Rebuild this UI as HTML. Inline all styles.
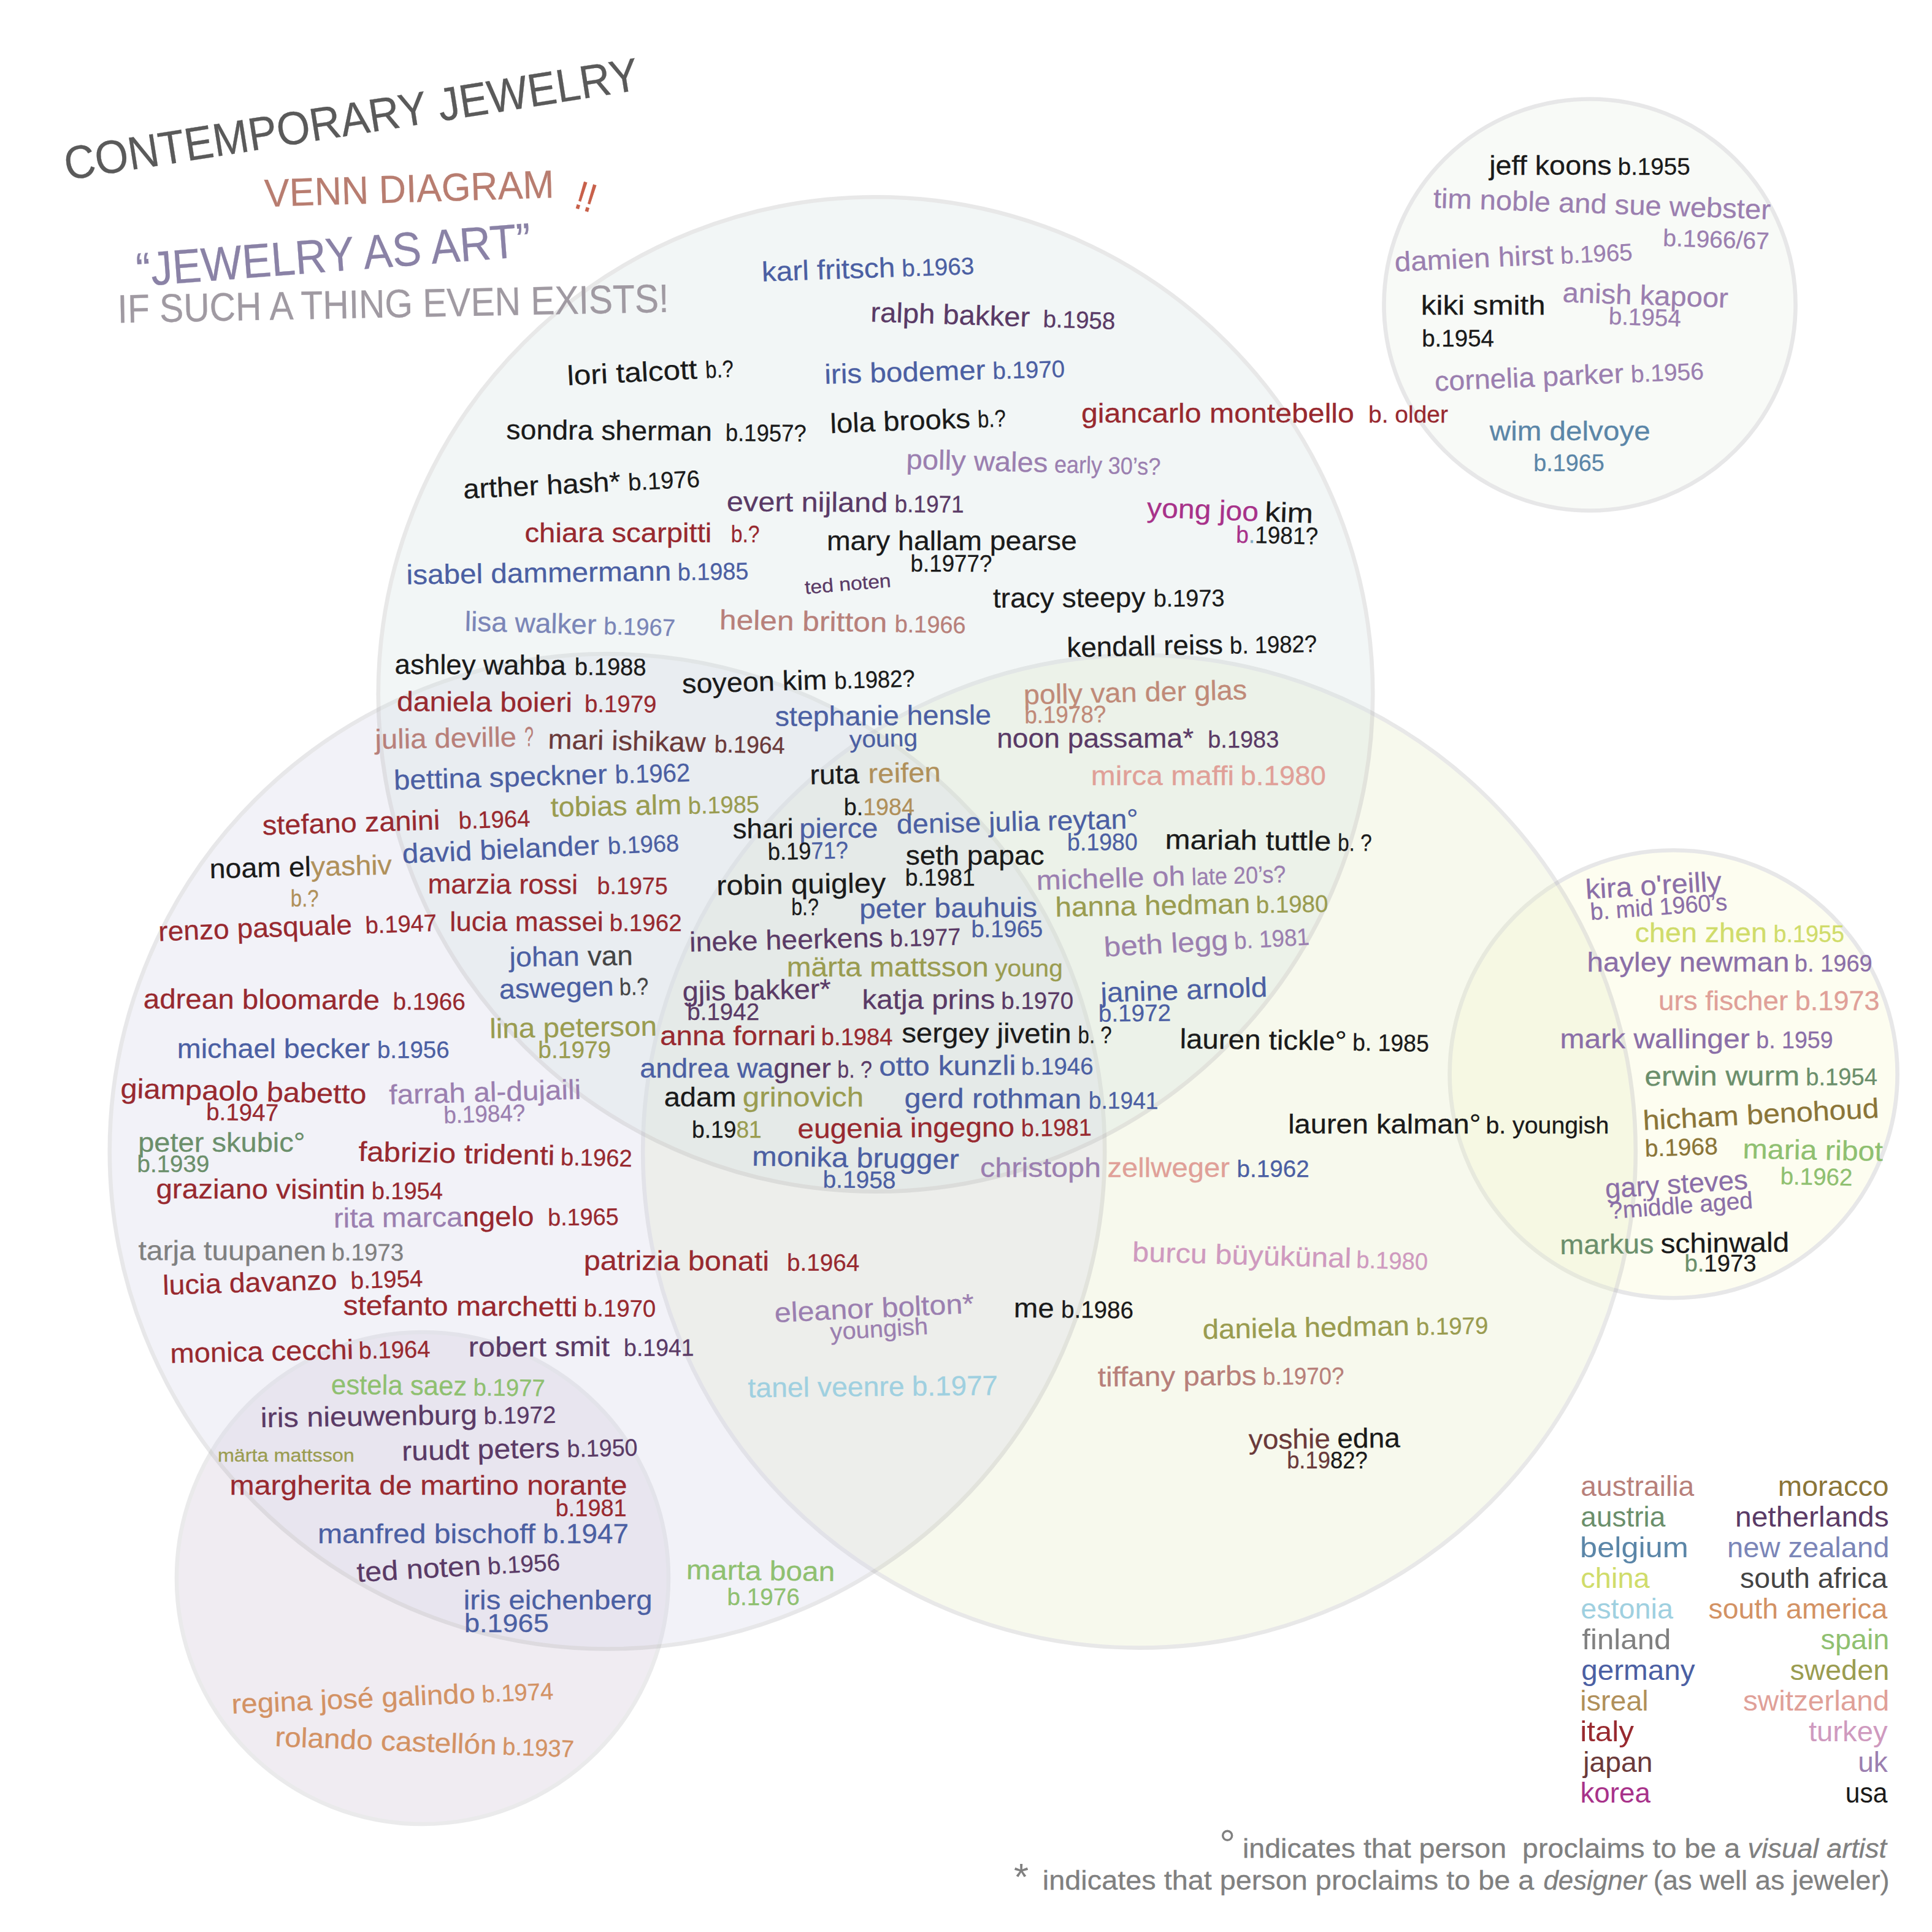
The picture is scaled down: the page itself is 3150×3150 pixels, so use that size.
<!DOCTYPE html>
<html><head><meta charset="utf-8"><title>Contemporary Jewelry Venn Diagram</title>
<style>html,body{margin:0;padding:0;background:#fff}svg{display:block}text{font-family:"Liberation Sans", sans-serif;white-space:pre;stroke-width:.3px}</style></head><body>
<svg width="3150" height="3150" viewBox="0 0 3150 3150">
<rect width="3150" height="3150" fill="#fff"/>
<circle cx="689" cy="2573" r="401" fill="rgb(208,195,215)" stroke="rgb(188,188,192)" stroke-width="6.6" opacity="0.3"/>
<circle cx="2592" cy="497" r="335.5" fill="rgb(225,235,220)" stroke="rgb(150,150,152)" stroke-width="6.6" opacity="0.22"/>
<circle cx="2728.6" cy="1751.2" r="365" fill="rgb(250,252,215)" stroke="rgb(188,188,190)" stroke-width="6.6" opacity="0.35"/>
<circle cx="1857.5" cy="1877.3" r="809.3" fill="rgb(232,238,198)" stroke="rgb(180,180,182)" stroke-width="6.6" opacity="0.3"/>
<circle cx="990" cy="1877.3" r="811.2" fill="rgb(212,212,232)" stroke="rgb(173,173,177)" stroke-width="6.6" opacity="0.28"/>
<circle cx="1427.5" cy="1132" r="810.75" fill="rgb(214,227,226)" stroke="rgb(180,180,182)" stroke-width="6.6" opacity="0.3"/>
<text transform="translate(111.6 293.2) rotate(-8.95) scale(0.9228 1)" x="-3" y="0" font-size="76" fill="#5a5a5a" stroke="#5a5a5a">CONTEMPORARY JEWELRY</text>
<text transform="translate(431.86 337.14) rotate(-1.81) scale(0.9556 1)" x="0" y="0" font-size="64" fill="#b87d70" stroke="#b87d70">VENN DIAGRAM</text>
<text transform="translate(226 467) rotate(-4.41) scale(0.9079 1)" x="-2" y="0" font-size="78" fill="#8a82a6" stroke="#8a82a6">“JEWELRY AS ART”</text>
<text transform="translate(197.5 526.2) rotate(-1.13) scale(0.9030 1)" x="-6" y="0" font-size="65" fill="#a09aa2" stroke="#a09aa2">IF SUCH A THING EVEN EXISTS!</text>
<text transform="translate(1245.65 458.74) rotate(-2.01) scale(1.0604 1)" x="-3" y="0" font-size="45" fill="#4b5fa3" stroke="#4b5fa3">karl fritsch</text>
<text transform="translate(1472.83 450.78) rotate(-2.01) scale(0.9879 1)" x="-2" y="0" font-size="39" fill="#4b5fa3" stroke="#4b5fa3">b.1963</text>
<text transform="translate(1421.2 524.33) rotate(1.81) scale(1.0492 1)" x="-2" y="0" font-size="45" fill="#5a3a66" stroke="#5a3a66">ralph bakker</text>
<text transform="translate(1702.17 533.22) rotate(1.81) scale(0.9878 1)" x="-2" y="0" font-size="39" fill="#5a3a66" stroke="#5a3a66">b.1958</text>
<text transform="translate(928.9 628) rotate(-2.94) scale(1.1011 1)" x="-3" y="0" font-size="45" fill="#1a1a1a" stroke="#1a1a1a">lori talcott</text>
<text transform="translate(1152.5 616.53) rotate(-2.94) scale(0.8454 1)" x="-2" y="0" font-size="39" fill="#1a1a1a" stroke="#1a1a1a">b.?</text>
<text transform="translate(1347.83 625.59) rotate(-1.6) scale(1.0603 1)" x="-3" y="0" font-size="45" fill="#4b5fa3" stroke="#4b5fa3">iris bodemer</text>
<text transform="translate(1620.65 617.94) rotate(-1.6) scale(0.9886 1)" x="-2" y="0" font-size="39" fill="#4b5fa3" stroke="#4b5fa3">b.1970</text>
<text transform="translate(826.4 715.8) rotate(0.48) scale(1.0316 1)" x="-1" y="0" font-size="45" fill="#1a1a1a" stroke="#1a1a1a">sondra sherman</text>
<text transform="translate(1184.5 718.81) rotate(0.48) scale(0.9365 1)" x="-2" y="0" font-size="39" fill="#1a1a1a" stroke="#1a1a1a">b.1957?</text>
<text transform="translate(1357.07 706.02) rotate(-2.2) scale(1.0514 1)" x="-3" y="0" font-size="45" fill="#1a1a1a" stroke="#1a1a1a">lola brooks</text>
<text transform="translate(1596.2 696.82) rotate(-2.2) scale(0.8444 1)" x="-2" y="0" font-size="39" fill="#1a1a1a" stroke="#1a1a1a">b.?</text>
<text transform="translate(1764 688.5) rotate(0) scale(1.0720 1)" x="-1" y="0" font-size="45" fill="#98292f" stroke="#98292f">giancarlo montebello</text>
<text transform="translate(2233 688.5) rotate(0) scale(0.9993 1)" x="-2" y="0" font-size="39" fill="#98292f" stroke="#98292f">b. older</text>
<text transform="translate(1479.35 764.38) rotate(1.38) scale(1.0491 1)" x="-2" y="0" font-size="45" fill="#9b7fb0" stroke="#9b7fb0">polly wales</text>
<text transform="translate(1719.57 770.18) rotate(1.38) scale(0.9226 1)" x="-1" y="0" font-size="39" fill="#9b7fb0" stroke="#9b7fb0">early 30’s?</text>
<text transform="translate(757 813) rotate(-2.84) scale(1.0471 1)" x="-1" y="0" font-size="45" fill="#1a1a1a" stroke="#1a1a1a">arther hash*</text>
<text transform="translate(1026.7 799.62) rotate(-2.84) scale(0.9813 1)" x="-2" y="0" font-size="39" fill="#1a1a1a" stroke="#1a1a1a">b.1976</text>
<text transform="translate(1185.87 833.02) rotate(0.41) scale(1.0819 1)" x="-1" y="0" font-size="45" fill="#5a3a66" stroke="#5a3a66">evert nijland</text>
<text transform="translate(1460.33 834.96) rotate(0.41) scale(0.9497 1)" x="-2" y="0" font-size="39" fill="#5a3a66" stroke="#5a3a66">b.1971</text>
<text transform="translate(856.5 883.5) rotate(0) scale(1.0510 1)" x="-1" y="0" font-size="45" fill="#98292f" stroke="#98292f">chiara scarpitti</text>
<text transform="translate(1193.5 883.5) rotate(0) scale(0.8637 1)" x="-2" y="0" font-size="39" fill="#98292f" stroke="#98292f">b.?</text>
<text transform="translate(1350 897.15) rotate(0) scale(1.0325 1)" x="-2" y="0" font-size="45" fill="#1a1a1a" stroke="#1a1a1a">mary hallam pearse</text>
<text transform="translate(1486.41 931.93) rotate(0) scale(0.9432 1)" x="-2" y="0" font-size="39" fill="#1a1a1a" stroke="#1a1a1a">b.1977?</text>
<text transform="translate(1869.6 843) rotate(2.09) scale(1.0699 1)" x="0" y="0" font-size="45" fill="#a8328a" stroke="#a8328a">yong joo</text>
<text transform="translate(2065.2 850.15) rotate(2.09) scale(1.1248 1)" x="-3" y="0" font-size="45" fill="#1a1a1a" stroke="#1a1a1a">kim</text>
<text transform="translate(2017 884.7) rotate(1.22) scale(0.9490 1)" x="-2" y="0" font-size="39"><tspan fill="#a8328a" stroke="#a8328a">b</tspan><tspan fill="#7fa8c0" stroke="#7fa8c0">.</tspan><tspan fill="#1a1a1a" stroke="#1a1a1a">1981?</tspan></text>
<text transform="translate(666 952.5) rotate(-0.83) scale(1.0591 1)" x="-3" y="0" font-size="45" fill="#4b5fa3" stroke="#4b5fa3">isabel dammermann</text>
<text transform="translate(1107 946.13) rotate(-0.83) scale(0.9693 1)" x="-2" y="0" font-size="39" fill="#4b5fa3" stroke="#4b5fa3">b.1985</text>
<text transform="translate(1313 968.5) rotate(-4.73) scale(1.0893 1)" x="0" y="0" font-size="31" fill="#5a3a66" stroke="#5a3a66">ted noten</text>
<text transform="translate(1619 990.5) rotate(-0.3) scale(1.0243 1)" x="0" y="0" font-size="45" fill="#1a1a1a" stroke="#1a1a1a">tracy steepy</text>
<text transform="translate(1882.6 989.1) rotate(-0.3) scale(0.9724 1)" x="-2" y="0" font-size="39" fill="#1a1a1a" stroke="#1a1a1a">b.1973</text>
<text transform="translate(1176.09 1025.96) rotate(0.94) scale(1.1044 1)" x="-3" y="0" font-size="45" fill="#b8807a" stroke="#b8807a">helen britton</text>
<text transform="translate(1460.33 1030.63) rotate(0.94) scale(0.9734 1)" x="-2" y="0" font-size="39" fill="#b8807a" stroke="#b8807a">b.1966</text>
<text transform="translate(760.6 1028.5) rotate(1.42) scale(1.0212 1)" x="-3" y="0" font-size="45" fill="#7b86b8" stroke="#7b86b8">lisa walker</text>
<text transform="translate(986 1034.1) rotate(1.42) scale(0.9779 1)" x="-2" y="0" font-size="39" fill="#7b86b8" stroke="#7b86b8">b.1967</text>
<text transform="translate(1742.8 1071.3) rotate(-1.19) scale(1.0181 1)" x="-3" y="0" font-size="45" fill="#1a1a1a" stroke="#1a1a1a">kendall reiss</text>
<text transform="translate(2007.2 1065.8) rotate(-1.19) scale(0.9357 1)" x="-2" y="0" font-size="39" fill="#1a1a1a" stroke="#1a1a1a">b. 1982?</text>
<text transform="translate(2426.09 285.2) rotate(0) scale(1.0400 1)" x="2" y="0" font-size="45" fill="#1a1a1a" stroke="#1a1a1a">jeff koons</text>
<text transform="translate(2639.67 285.2) rotate(0) scale(0.9882 1)" x="-2" y="0" font-size="39" fill="#1a1a1a" stroke="#1a1a1a">b.1955</text>
<text transform="translate(2336.41 338.46) rotate(1.98) scale(1.0476 1)" x="0" y="0" font-size="45" fill="#9b7fb0" stroke="#9b7fb0">tim noble and sue webster</text>
<text transform="translate(2713.04 400.96) rotate(1.84) scale(0.9991 1)" x="-2" y="0" font-size="39" fill="#9b7fb0" stroke="#9b7fb0">b.1966/67</text>
<text transform="translate(2275.54 442.8) rotate(-2.74) scale(1.0566 1)" x="-1" y="0" font-size="45" fill="#9b7fb0" stroke="#9b7fb0">damien hirst</text>
<text transform="translate(2546.74 429.82) rotate(-2.74) scale(0.9846 1)" x="-2" y="0" font-size="39" fill="#9b7fb0" stroke="#9b7fb0">b.1965</text>
<text transform="translate(2320.11 513.46) rotate(0) scale(1.0961 1)" x="-3" y="0" font-size="45" fill="#1a1a1a" stroke="#1a1a1a">kiki smith</text>
<text transform="translate(2320.11 565.09) rotate(0) scale(0.9882 1)" x="-2" y="0" font-size="39" fill="#1a1a1a" stroke="#1a1a1a">b.1954</text>
<text transform="translate(2548.37 492.26) rotate(1.97) scale(1.0487 1)" x="-1" y="0" font-size="45" fill="#9b7fb0" stroke="#9b7fb0">anish kapoor</text>
<text transform="translate(2624.46 528.67) rotate(1.89) scale(0.9887 1)" x="-2" y="0" font-size="39" fill="#9b7fb0" stroke="#9b7fb0">b.1954</text>
<text transform="translate(2340.76 637.37) rotate(-2.5) scale(1.0361 1)" x="-1" y="0" font-size="45" fill="#9b7fb0" stroke="#9b7fb0">cornelia parker</text>
<text transform="translate(2661.41 623.38) rotate(-2.5) scale(0.9977 1)" x="-2" y="0" font-size="39" fill="#9b7fb0" stroke="#9b7fb0">b.1956</text>
<text transform="translate(2427.72 717.8) rotate(0) scale(1.0581 1)" x="1" y="0" font-size="45" fill="#5b86a8" stroke="#5b86a8">wim delvoye</text>
<text transform="translate(2502.17 767.8) rotate(0) scale(0.9695 1)" x="-2" y="0" font-size="39" fill="#5b86a8" stroke="#5b86a8">b.1965</text>
<text transform="translate(644.6 1098.5) rotate(0.35) scale(1.0140 1)" x="-1" y="0" font-size="45" fill="#1a1a1a" stroke="#1a1a1a">ashley wahba</text>
<text transform="translate(938.8 1100.31) rotate(0.35) scale(0.9784 1)" x="-2" y="0" font-size="39" fill="#1a1a1a" stroke="#1a1a1a">b.1988</text>
<text transform="translate(648 1159) rotate(0.34) scale(1.0687 1)" x="-1" y="0" font-size="45" fill="#98292f" stroke="#98292f">daniela boieri</text>
<text transform="translate(955 1160.82) rotate(0.34) scale(0.9828 1)" x="-2" y="0" font-size="39" fill="#98292f" stroke="#98292f">b.1979</text>
<text transform="translate(609.78 1221.07) rotate(-1.08) scale(1.0473 1)" x="2" y="0" font-size="45" fill="#b8807a" stroke="#b8807a">julia deville</text>
<text transform="translate(855.98 1216.43) rotate(-1.08) scale(0.5908 1)" x="-1" y="0" font-size="45" fill="#b8807a" stroke="#b8807a">?</text>
<text transform="translate(895.4 1220.5) rotate(1.26) scale(1.0383 1)" x="-2" y="0" font-size="45" fill="#6b3a3a" stroke="#6b3a3a">mari ishikaw</text>
<text transform="translate(1166.4 1226.44) rotate(1.26) scale(0.9634 1)" x="-2" y="0" font-size="39" fill="#6b3a3a" stroke="#6b3a3a">b.1964</text>
<text transform="translate(644.6 1287.5) rotate(-1.64) scale(1.0537 1)" x="-2" y="0" font-size="45" fill="#4b5fa3" stroke="#4b5fa3">bettina speckner</text>
<text transform="translate(1005 1277.21) rotate(-1.64) scale(0.9540 1)" x="-2" y="0" font-size="42" fill="#4b5fa3" stroke="#4b5fa3">b.1962</text>
<text transform="translate(898 1331.5) rotate(-1.18) scale(1.0416 1)" x="0" y="0" font-size="45" fill="#9a9c50" stroke="#9a9c50">tobias alm</text>
<text transform="translate(1124 1326.84) rotate(-1.18) scale(0.9737 1)" x="-2" y="0" font-size="39" fill="#9a9c50" stroke="#9a9c50">b.1985</text>
<text transform="translate(429.35 1361.28) rotate(-1.79) scale(1.0430 1)" x="-1" y="0" font-size="45" fill="#98292f" stroke="#98292f">stefano zanini</text>
<text transform="translate(750 1351.26) rotate(-1.79) scale(0.9793 1)" x="-2" y="0" font-size="39" fill="#98292f" stroke="#98292f">b.1964</text>
<text transform="translate(657.6 1407.5) rotate(-2.55) scale(1.0542 1)" x="-1" y="0" font-size="45" fill="#4b5fa3" stroke="#4b5fa3">david bielander</text>
<text transform="translate(993.5 1392.52) rotate(-2.55) scale(0.9742 1)" x="-2" y="0" font-size="39" fill="#4b5fa3" stroke="#4b5fa3">b.1968</text>
<text transform="translate(344.02 1431.93) rotate(-1.26) scale(1.0335 1)" x="-2" y="0" font-size="45"><tspan fill="#1a1a1a" stroke="#1a1a1a">noam el</tspan><tspan fill="#b0905a" stroke="#b0905a">yashiv</tspan></text>
<text transform="translate(475.54 1478.13) rotate(0) scale(0.8438 1)" x="-2" y="0" font-size="39" fill="#b0905a" stroke="#b0905a">b.?</text>
<text transform="translate(699.5 1456.5) rotate(0.22) scale(1.0083 1)" x="-2" y="0" font-size="45" fill="#98292f" stroke="#98292f">marzia rossi</text>
<text transform="translate(975.5 1457.57) rotate(0.22) scale(0.9649 1)" x="-2" y="0" font-size="39" fill="#98292f" stroke="#98292f">b.1975</text>
<text transform="translate(260.87 1534.11) rotate(-2.08) scale(1.0263 1)" x="-2" y="0" font-size="45" fill="#98292f" stroke="#98292f">renzo pasquale</text>
<text transform="translate(597.83 1521.9) rotate(-2.08) scale(0.9786 1)" x="-2" y="0" font-size="39" fill="#98292f" stroke="#98292f">b.1947</text>
<text transform="translate(736.4 1517.5) rotate(0) scale(1.0125 1)" x="-3" y="0" font-size="45" fill="#98292f" stroke="#98292f">lucia massei</text>
<text transform="translate(995.7 1517.5) rotate(0) scale(0.9888 1)" x="-2" y="0" font-size="39" fill="#98292f" stroke="#98292f">b.1962</text>
<text transform="translate(828.8 1575.96) rotate(-0.77) scale(1.0369 1)" x="2" y="0" font-size="45" fill="#4b5fa3" stroke="#4b5fa3">johan</text>
<text transform="translate(958.15 1574.21) rotate(-0.77) scale(1.0173 1)" x="0" y="0" font-size="45" fill="#444444" stroke="#444444">van</text>
<text transform="translate(815.2 1628.5) rotate(-1.66) scale(1.0382 1)" x="-1" y="0" font-size="45" fill="#4b5fa3" stroke="#4b5fa3">aswegen</text>
<text transform="translate(1012 1622.8) rotate(-1.66) scale(0.8737 1)" x="-2" y="0" font-size="39" fill="#444444" stroke="#444444">b.?</text>
<text transform="translate(234.78 1643.89) rotate(0.3) scale(1.0549 1)" x="-1" y="0" font-size="45" fill="#98292f" stroke="#98292f">adrean bloomarde</text>
<text transform="translate(642.39 1646.01) rotate(0.3) scale(0.9920 1)" x="-2" y="0" font-size="39" fill="#98292f" stroke="#98292f">b.1966</text>
<text transform="translate(801.6 1692.5) rotate(-0.86) scale(1.0585 1)" x="-3" y="0" font-size="45" fill="#9a9c50" stroke="#9a9c50">lina peterson</text>
<text transform="translate(879.35 1725.41) rotate(0) scale(0.9967 1)" x="-2" y="0" font-size="39" fill="#9a9c50" stroke="#9a9c50">b.1979</text>
<text transform="translate(290.76 1725.41) rotate(0) scale(1.0394 1)" x="-2" y="0" font-size="45" fill="#4b5fa3" stroke="#4b5fa3">michael becker</text>
<text transform="translate(616.85 1725.41) rotate(0) scale(0.9873 1)" x="-2" y="0" font-size="39" fill="#4b5fa3" stroke="#4b5fa3">b.1956</text>
<text transform="translate(197.3 1790) rotate(1.36) scale(1.0830 1)" x="-1" y="0" font-size="45" fill="#98292f" stroke="#98292f">giampaolo babetto</text>
<text transform="translate(338.04 1825.96) rotate(0.82) scale(0.9874 1)" x="-2" y="0" font-size="39" fill="#98292f" stroke="#98292f">b.1947</text>
<text transform="translate(634.78 1800.41) rotate(-1.61) scale(1.0608 1)" x="0" y="0" font-size="45" fill="#9b7fb0" stroke="#9b7fb0">farrah al-dujaili</text>
<text transform="translate(725.54 1831.39) rotate(-1.67) scale(0.9436 1)" x="-2" y="0" font-size="39" fill="#9b7fb0" stroke="#9b7fb0">b.1984?</text>
<text transform="translate(227.3 1877.8) rotate(0) scale(1.0451 1)" x="-2" y="0" font-size="45" fill="#6b8f6b" stroke="#6b8f6b">peter skubic°</text>
<text transform="translate(225.54 1911.28) rotate(0) scale(0.9873 1)" x="-2" y="0" font-size="39" fill="#6b8f6b" stroke="#6b8f6b">b.1939</text>
<text transform="translate(584.24 1892.8) rotate(1.19) scale(1.0942 1)" x="0" y="0" font-size="45" fill="#98292f" stroke="#98292f">fabrizio tridenti</text>
<text transform="translate(915.76 1899.69) rotate(1.19) scale(0.9781 1)" x="-2" y="0" font-size="39" fill="#98292f" stroke="#98292f">b.1962</text>
<text transform="translate(255.43 1953.67) rotate(0.2) scale(1.0576 1)" x="-1" y="0" font-size="45" fill="#98292f" stroke="#98292f">graziano visintin</text>
<text transform="translate(607.61 1954.91) rotate(0.2) scale(0.9742 1)" x="-2" y="0" font-size="39" fill="#98292f" stroke="#98292f">b.1954</text>
<text transform="translate(546.2 2001.5) rotate(-0.54) scale(1.0530 1)" x="-2" y="0" font-size="45"><tspan fill="#9b7fb0" stroke="#9b7fb0">rita marca</tspan><tspan fill="#98292f" stroke="#98292f">ngelo</tspan></text>
<text transform="translate(895.11 1998.22) rotate(-0.54) scale(0.9696 1)" x="-2" y="0" font-size="39" fill="#98292f" stroke="#98292f">b.1965</text>
<text transform="translate(225.54 2054.22) rotate(0.14) scale(1.0653 1)" x="0" y="0" font-size="45" fill="#808080" stroke="#808080">tarja tuupanen</text>
<text transform="translate(542.39 2055.02) rotate(0.14) scale(0.9873 1)" x="-2" y="0" font-size="39" fill="#808080" stroke="#808080">b.1973</text>
<text transform="translate(268.8 2110.9) rotate(-1.83) scale(1.0339 1)" x="-3" y="0" font-size="45" fill="#98292f" stroke="#98292f">lucia davanzo</text>
<text transform="translate(574 2101.17) rotate(-1.83) scale(0.9868 1)" x="-2" y="0" font-size="39" fill="#98292f" stroke="#98292f">b.1954</text>
<text transform="translate(954 2070.5) rotate(0.21) scale(1.0793 1)" x="-2" y="0" font-size="45" fill="#98292f" stroke="#98292f">patrizia bonati</text>
<text transform="translate(1285 2071.69) rotate(0.21) scale(0.9906 1)" x="-2" y="0" font-size="39" fill="#98292f" stroke="#98292f">b.1964</text>
<text transform="translate(1113.59 1130.3) rotate(-1.65) scale(1.0384 1)" x="-1" y="0" font-size="45" fill="#1a1a1a" stroke="#1a1a1a">soyeon kim</text>
<text transform="translate(1362.5 1123.14) rotate(-1.65) scale(0.9318 1)" x="-2" y="0" font-size="39" fill="#1a1a1a" stroke="#1a1a1a">b.1982?</text>
<text transform="translate(1264.67 1183.57) rotate(-0.44) scale(1.0364 1)" x="-1" y="0" font-size="45" fill="#4b5fa3" stroke="#4b5fa3">stephanie hensle</text>
<text transform="translate(1385.33 1218.89) rotate(-1.42) scale(1.0450 1)" x="0" y="0" font-size="39" fill="#4b5fa3" stroke="#4b5fa3">young</text>
<text transform="translate(1671.2 1148.24) rotate(-1.29) scale(1.0411 1)" x="-2" y="0" font-size="45" fill="#c08a78" stroke="#c08a78">polly van der glas</text>
<text transform="translate(1672.28 1179.22) rotate(-0.72) scale(0.9433 1)" x="-2" y="0" font-size="39" fill="#c08a78" stroke="#c08a78">b.1978?</text>
<text transform="translate(1627.17 1218.89) rotate(0) scale(1.0267 1)" x="-2" y="0" font-size="45" fill="#5a3a66" stroke="#5a3a66">noon passama*</text>
<text transform="translate(1971.2 1218.89) rotate(0) scale(0.9732 1)" x="-2" y="0" font-size="39" fill="#5a3a66" stroke="#5a3a66">b.1983</text>
<text transform="translate(1322.83 1278.67) rotate(-1.19) scale(1.0373 1)" x="-2" y="0" font-size="45" fill="#1a1a1a" stroke="#1a1a1a">ruta</text>
<text transform="translate(1417.93 1276.7) rotate(-1.19) scale(1.0517 1)" x="-2" y="0" font-size="45" fill="#b0905a" stroke="#b0905a">reifen</text>
<text transform="translate(1377.72 1328.67) rotate(0) scale(0.9649 1)" x="-2" y="0" font-size="39"><tspan fill="#1a1a1a" stroke="#1a1a1a">b.</tspan><tspan fill="#b0905a" stroke="#b0905a">1984</tspan></text>
<text transform="translate(1781 1279.5) rotate(0) scale(1.0644 1)" x="-2" y="0" font-size="45" fill="#e0a098" stroke="#e0a098">mirca maffi</text>
<text transform="translate(2024.5 1279.5) rotate(0) scale(1.0140 1)" x="-2" y="0" font-size="45" fill="#e0a098" stroke="#e0a098">b.1980</text>
<text transform="translate(1195.65 1366.72) rotate(-0.27) scale(1.0168 1)" x="-1" y="0" font-size="45" fill="#1a1a1a" stroke="#1a1a1a">shari</text>
<text transform="translate(1305.43 1366.21) rotate(-0.27) scale(1.0457 1)" x="-2" y="0" font-size="45" fill="#4b5fa3" stroke="#4b5fa3">pierce</text>
<text transform="translate(1253.8 1402.04) rotate(-1.21) scale(0.9316 1)" x="-2" y="0" font-size="39"><tspan fill="#1a1a1a" stroke="#1a1a1a">b.19</tspan><tspan fill="#4b5fa3" stroke="#4b5fa3">71?</tspan></text>
<text transform="translate(1463.4 1359.3) rotate(-1.3) scale(1.0349 1)" x="-1" y="0" font-size="45" fill="#4b5fa3" stroke="#4b5fa3">denise julia reytan°</text>
<text transform="translate(1742 1386.5) rotate(-0.26) scale(0.9623 1)" x="-2" y="0" font-size="39" fill="#4b5fa3" stroke="#4b5fa3">b.1980</text>
<text transform="translate(1901.6 1384.1) rotate(0.58) scale(1.0933 1)" x="-2" y="0" font-size="45" fill="#1a1a1a" stroke="#1a1a1a">mariah tuttle</text>
<text transform="translate(2182.6 1386.96) rotate(0.58) scale(0.8564 1)" x="-2" y="0" font-size="39" fill="#1a1a1a" stroke="#1a1a1a">b. ?</text>
<text transform="translate(1477.72 1410.2) rotate(0) scale(1.0265 1)" x="-1" y="0" font-size="45" fill="#1a1a1a" stroke="#1a1a1a">seth papac</text>
<text transform="translate(1477.72 1443.89) rotate(0) scale(0.9544 1)" x="-2" y="0" font-size="39" fill="#1a1a1a" stroke="#1a1a1a">b.1981</text>
<text transform="translate(1692.39 1450.96) rotate(-1.77) scale(1.0652 1)" x="-2" y="0" font-size="45" fill="#9b7fb0" stroke="#9b7fb0">michelle oh</text>
<text transform="translate(1945.11 1443.13) rotate(-1.77) scale(0.9242 1)" x="-2" y="0" font-size="39" fill="#9b7fb0" stroke="#9b7fb0">late 20’s?</text>
<text transform="translate(1170.65 1459.11) rotate(-0.91) scale(1.0821 1)" x="-2" y="0" font-size="45" fill="#1a1a1a" stroke="#1a1a1a">robin quigley</text>
<text transform="translate(1291.85 1491.72) rotate(0) scale(0.8227 1)" x="-2" y="0" font-size="39" fill="#1a1a1a" stroke="#1a1a1a">b.?</text>
<text transform="translate(1403.26 1497.15) rotate(-0.54) scale(1.0640 1)" x="-2" y="0" font-size="45" fill="#4b5fa3" stroke="#4b5fa3">peter bauhuis</text>
<text transform="translate(1585.33 1528.13) rotate(0) scale(0.9789 1)" x="-2" y="0" font-size="39" fill="#4b5fa3" stroke="#4b5fa3">b.1965</text>
<text transform="translate(1724 1494.5) rotate(-1.04) scale(1.0583 1)" x="-3" y="0" font-size="45" fill="#9a9c50" stroke="#9a9c50">hanna hedman</text>
<text transform="translate(2050 1488.59) rotate(-1.04) scale(0.9865 1)" x="-2" y="0" font-size="39" fill="#9a9c50" stroke="#9a9c50">b.1980</text>
<text transform="translate(1127.72 1551.5) rotate(-1.42) scale(1.0341 1)" x="-3" y="0" font-size="45" fill="#5a3a66" stroke="#5a3a66">ineke heerkens</text>
<text transform="translate(1453.26 1543.41) rotate(-1.42) scale(0.9688 1)" x="-2" y="0" font-size="39" fill="#5a3a66" stroke="#5a3a66">b.1977</text>
<text transform="translate(1803 1559.5) rotate(-3.29) scale(1.0949 1)" x="-2" y="0" font-size="45" fill="#9b7fb0" stroke="#9b7fb0">beth legg</text>
<text transform="translate(2014.7 1547.35) rotate(-3.29) scale(0.9452 1)" x="-2" y="0" font-size="39" fill="#9b7fb0" stroke="#9b7fb0">b. 1981</text>
<text transform="translate(1284.78 1592.26) rotate(0) scale(1.0618 1)" x="-2" y="0" font-size="45" fill="#9a9c50" stroke="#9a9c50">märta mattsson</text>
<text transform="translate(1622.28 1592.26) rotate(0) scale(1.0395 1)" x="0" y="0" font-size="39" fill="#9a9c50" stroke="#9a9c50">young</text>
<text transform="translate(1114.13 1631.93) rotate(-1.04) scale(1.0397 1)" x="-1" y="0" font-size="45" fill="#5a3a66" stroke="#5a3a66">gjis bakker*</text>
<text transform="translate(1122.28 1662.91) rotate(0) scale(0.9873 1)" x="-2" y="0" font-size="39" fill="#5a3a66" stroke="#5a3a66">b.1942</text>
<text transform="translate(1408.7 1644.98) rotate(0) scale(1.0567 1)" x="-3" y="0" font-size="45" fill="#5a3a66" stroke="#5a3a66">katja prins</text>
<text transform="translate(1634.24 1644.98) rotate(0) scale(0.9882 1)" x="-2" y="0" font-size="39" fill="#5a3a66" stroke="#5a3a66">b.1970</text>
<text transform="translate(1792.93 1634.11) rotate(-1.95) scale(1.0552 1)" x="2" y="0" font-size="45" fill="#4b5fa3" stroke="#4b5fa3">janine arnold</text>
<text transform="translate(1792.93 1665.63) rotate(-0.54) scale(0.9921 1)" x="-2" y="0" font-size="39" fill="#4b5fa3" stroke="#4b5fa3">b.1972</text>
<text transform="translate(1077.17 1703.67) rotate(0) scale(1.0586 1)" x="-1" y="0" font-size="45" fill="#98292f" stroke="#98292f">anna fornari</text>
<text transform="translate(1340.76 1703.67) rotate(0) scale(0.9789 1)" x="-2" y="0" font-size="39" fill="#98292f" stroke="#98292f">b.1984</text>
<text transform="translate(1471.2 1699.33) rotate(0.27) scale(1.0531 1)" x="-1" y="0" font-size="45" fill="#1a1a1a" stroke="#1a1a1a">sergey jivetin</text>
<text transform="translate(1759.24 1700.7) rotate(0.27) scale(0.8454 1)" x="-2" y="0" font-size="39" fill="#1a1a1a" stroke="#1a1a1a">b. ?</text>
<text transform="translate(1926.6 1709.1) rotate(0.77) scale(1.0545 1)" x="-3" y="0" font-size="45" fill="#1a1a1a" stroke="#1a1a1a">lauren tickle°</text>
<text transform="translate(2207 1712.86) rotate(0.77) scale(0.9575 1)" x="-2" y="0" font-size="39" fill="#1a1a1a" stroke="#1a1a1a">b. 1985</text>
<text transform="translate(1044.2 1757.2) rotate(0) scale(1.0387 1)" x="-1" y="0" font-size="45"><tspan fill="#4b5fa3" stroke="#4b5fa3">andrea wa</tspan><tspan fill="#5a3a66" stroke="#5a3a66">gner</tspan></text>
<text transform="translate(1367 1757.2) rotate(0) scale(0.8723 1)" x="-2" y="0" font-size="39" fill="#5a3a66" stroke="#5a3a66">b. ?</text>
<text transform="translate(1434.24 1753.67) rotate(-0.36) scale(1.1028 1)" x="-1" y="0" font-size="45" fill="#4b5fa3" stroke="#4b5fa3">otto kunzli</text>
<text transform="translate(1666.85 1752.22) rotate(-0.36) scale(0.9873 1)" x="-2" y="0" font-size="39" fill="#4b5fa3" stroke="#4b5fa3">b.1946</text>
<text transform="translate(1083.7 1804.22) rotate(0) scale(1.0463 1)" x="-1" y="0" font-size="45" fill="#1a1a1a" stroke="#1a1a1a">adam</text>
<text transform="translate(1211.96 1804.22) rotate(0) scale(1.0958 1)" x="-1" y="0" font-size="45" fill="#9a9c50" stroke="#9a9c50">grinovich</text>
<text transform="translate(1129.89 1854.76) rotate(0) scale(0.9544 1)" x="-2" y="0" font-size="39"><tspan fill="#1a1a1a" stroke="#1a1a1a">b.19</tspan><tspan fill="#9a9c50" stroke="#9a9c50">81</tspan></text>
<text transform="translate(1475.54 1805.85) rotate(0.3) scale(1.0783 1)" x="-1" y="0" font-size="45" fill="#4b5fa3" stroke="#4b5fa3">gerd rothman</text>
<text transform="translate(1776.63 1807.44) rotate(0.3) scale(0.9544 1)" x="-2" y="0" font-size="39" fill="#4b5fa3" stroke="#4b5fa3">b.1941</text>
<text transform="translate(1301.63 1855.85) rotate(-0.52) scale(1.0630 1)" x="-1" y="0" font-size="45" fill="#98292f" stroke="#98292f">eugenia ingegno</text>
<text transform="translate(1666.85 1852.52) rotate(-0.52) scale(0.9639 1)" x="-2" y="0" font-size="39" fill="#98292f" stroke="#98292f">b.1981</text>
<text transform="translate(1228.26 1900.41) rotate(0.93) scale(1.0795 1)" x="-2" y="0" font-size="45" fill="#4b5fa3" stroke="#4b5fa3">monika brugger</text>
<text transform="translate(1343.48 1936.28) rotate(0.54) scale(0.9968 1)" x="-2" y="0" font-size="39" fill="#4b5fa3" stroke="#4b5fa3">b.1958</text>
<text transform="translate(1599 1918.5) rotate(0) scale(1.0804 1)" x="-1" y="0" font-size="45" fill="#9b7fb0" stroke="#9b7fb0">christoph</text>
<text transform="translate(1806.5 1918.5) rotate(0) scale(1.0497 1)" x="-1" y="0" font-size="45" fill="#e0a098" stroke="#e0a098">zellweger</text>
<text transform="translate(2018.5 1918.5) rotate(0) scale(0.9905 1)" x="-2" y="0" font-size="39" fill="#4b5fa3" stroke="#4b5fa3">b.1962</text>
<text transform="translate(1848 2056.5) rotate(1.67) scale(1.0812 1)" x="-2" y="0" font-size="45" fill="#cf9abf" stroke="#cf9abf">burcu büyükünal</text>
<text transform="translate(2213 2067.17) rotate(1.67) scale(0.9782 1)" x="-2" y="0" font-size="39" fill="#cf9abf" stroke="#cf9abf">b.1980</text>
<text transform="translate(2589.13 1465.63) rotate(-3.55) scale(1.0518 1)" x="-3" y="0" font-size="45" fill="#8b6fa8" stroke="#8b6fa8">kira o'reilly</text>
<text transform="translate(2595.65 1499.87) rotate(-4.23) scale(0.9672 1)" x="-2" y="0" font-size="39" fill="#8b6fa8" stroke="#8b6fa8">b. mid 1960’s</text>
<text transform="translate(2666.85 1536.28) rotate(0) scale(1.0358 1)" x="-1" y="0" font-size="45" fill="#d0dc6a" stroke="#d0dc6a">chen zhen</text>
<text transform="translate(2893.48 1536.28) rotate(0) scale(0.9695 1)" x="-2" y="0" font-size="39" fill="#d0dc6a" stroke="#d0dc6a">b.1955</text>
<text transform="translate(2590.76 1584.11) rotate(0) scale(1.0546 1)" x="-3" y="0" font-size="45" fill="#8b6fa8" stroke="#8b6fa8">hayley newman</text>
<text transform="translate(2927.72 1584.11) rotate(0) scale(0.9758 1)" x="-2" y="0" font-size="39" fill="#8b6fa8" stroke="#8b6fa8">b. 1969</text>
<text transform="translate(2705.98 1646.61) rotate(0) scale(1.0179 1)" x="-2" y="0" font-size="45" fill="#e0a098" stroke="#e0a098">urs fischer</text>
<text transform="translate(2928.8 1646.61) rotate(0) scale(1.0013 1)" x="-2" y="0" font-size="45" fill="#e0a098" stroke="#e0a098">b.1973</text>
<text transform="translate(2545.65 1709.11) rotate(0) scale(1.0658 1)" x="-2" y="0" font-size="45" fill="#8b6fa8" stroke="#8b6fa8">mark wallinger</text>
<text transform="translate(2865.22 1709.11) rotate(0) scale(0.9629 1)" x="-2" y="0" font-size="39" fill="#8b6fa8" stroke="#8b6fa8">b. 1959</text>
<text transform="translate(2682.61 1769.98) rotate(-0.16) scale(1.0987 1)" x="-1" y="0" font-size="45" fill="#6b8f6b" stroke="#6b8f6b">erwin wurm</text>
<text transform="translate(2946.2 1769.22) rotate(-0.16) scale(0.9789 1)" x="-2" y="0" font-size="39" fill="#6b8f6b" stroke="#6b8f6b">b.1954</text>
<text transform="translate(2682.61 1842.26) rotate(-3.03) scale(1.0769 1)" x="-3" y="0" font-size="45" fill="#8b7538" stroke="#8b7538">hicham benohoud</text>
<text transform="translate(2684.24 1885.74) rotate(-1.89) scale(0.9973 1)" x="-2" y="0" font-size="39" fill="#8b7538" stroke="#8b7538">b.1968</text>
<text transform="translate(2103.26 1847.7) rotate(0) scale(1.0459 1)" x="-3" y="0" font-size="45" fill="#1a1a1a" stroke="#1a1a1a">lauren kalman°</text>
<text transform="translate(2424.46 1847.7) rotate(0) scale(1.0076 1)" x="-2" y="0" font-size="39" fill="#1a1a1a" stroke="#1a1a1a">b. youngish</text>
<text transform="translate(2843.48 1888.46) rotate(1.1) scale(1.0740 1)" x="-2" y="0" font-size="45" fill="#8fc070" stroke="#8fc070">maria ribot</text>
<text transform="translate(2904.35 1930.85) rotate(1.09) scale(0.9875 1)" x="-2" y="0" font-size="39" fill="#8fc070" stroke="#8fc070">b.1962</text>
<text transform="translate(2619.02 1953.67) rotate(-3.79) scale(1.0123 1)" x="-1" y="0" font-size="45" fill="#8b6fa8" stroke="#8b6fa8">gary steves</text>
<text transform="translate(2626.09 1987.37) rotate(-4.31) scale(1.0007 1)" x="-1" y="0" font-size="39" fill="#8b6fa8" stroke="#8b6fa8">?middle aged</text>
<text transform="translate(2545.65 2044.98) rotate(-0.67) scale(1.0378 1)" x="-2" y="0" font-size="45" fill="#6b8f6b" stroke="#6b8f6b">markus</text>
<text transform="translate(2708.7 2043.06) rotate(-0.67) scale(1.0615 1)" x="-1" y="0" font-size="45" fill="#1a1a1a" stroke="#1a1a1a">schinwald</text>
<text transform="translate(2748.37 2073.24) rotate(0) scale(0.9826 1)" x="-2" y="0" font-size="39"><tspan fill="#6b8f6b" stroke="#6b8f6b">b.</tspan><tspan fill="#1a1a1a" stroke="#1a1a1a">1973</tspan></text>
<text transform="translate(560.5 2143.5) rotate(0.39) scale(1.0691 1)" x="-1" y="0" font-size="45" fill="#98292f" stroke="#98292f">stefanto marchetti</text>
<text transform="translate(953.8 2146.21) rotate(0.39) scale(0.9838 1)" x="-2" y="0" font-size="39" fill="#98292f" stroke="#98292f">b.1970</text>
<text transform="translate(279.89 2222.15) rotate(-1.26) scale(1.0479 1)" x="-2" y="0" font-size="45" fill="#98292f" stroke="#98292f">monica cecchi</text>
<text transform="translate(586.96 2215.42) rotate(-1.26) scale(0.9791 1)" x="-2" y="0" font-size="39" fill="#98292f" stroke="#98292f">b.1964</text>
<text transform="translate(766 2211.5) rotate(-0.16) scale(1.0832 1)" x="-2" y="0" font-size="45" fill="#5a3a66" stroke="#5a3a66">robert smit</text>
<text transform="translate(1019 2210.8) rotate(-0.16) scale(0.9603 1)" x="-2" y="0" font-size="39" fill="#5a3a66" stroke="#5a3a66">b.1941</text>
<text transform="translate(540.76 2272.7) rotate(0.63) scale(0.9729 1)" x="-1" y="0" font-size="45" fill="#8fc070" stroke="#8fc070">estela saez</text>
<text transform="translate(773.37 2275.25) rotate(0.63) scale(0.9827 1)" x="-2" y="0" font-size="39" fill="#8fc070" stroke="#8fc070">b.1977</text>
<text transform="translate(428.26 2327.04) rotate(-0.85) scale(1.0781 1)" x="-3" y="0" font-size="45" fill="#5a3a66" stroke="#5a3a66">iris nieuwenburg</text>
<text transform="translate(790.76 2321.67) rotate(-0.85) scale(0.9874 1)" x="-2" y="0" font-size="39" fill="#5a3a66" stroke="#5a3a66">b.1972</text>
<text transform="translate(357.07 2383.02) rotate(0) scale(1.0787 1)" x="-2" y="0" font-size="30" fill="#9a9c50" stroke="#9a9c50">märta mattsson</text>
<text transform="translate(657.61 2381.39) rotate(-1.22) scale(1.0728 1)" x="-2" y="0" font-size="45" fill="#5a3a66" stroke="#5a3a66">ruudt peters</text>
<text transform="translate(926.63 2375.64) rotate(-1.22) scale(0.9651 1)" x="-2" y="0" font-size="39" fill="#5a3a66" stroke="#5a3a66">b.1950</text>
<text transform="translate(376.63 2437.37) rotate(0) scale(1.0711 1)" x="-2" y="0" font-size="45" fill="#98292f" stroke="#98292f">margherita de martino norante</text>
<text transform="translate(907.61 2472.15) rotate(0) scale(0.9732 1)" x="-2" y="0" font-size="39" fill="#98292f" stroke="#98292f">b.1981</text>
<text transform="translate(520.11 2515.63) rotate(0) scale(1.0694 1)" x="-2" y="0" font-size="45" fill="#4b5fa3" stroke="#4b5fa3">manfred bischoff</text>
<text transform="translate(886.96 2515.63) rotate(0) scale(1.0169 1)" x="-2" y="0" font-size="45" fill="#4b5fa3" stroke="#4b5fa3">b.1947</text>
<text transform="translate(582.61 2579.22) rotate(-3.31) scale(1.0791 1)" x="0" y="0" font-size="45" fill="#5a3a66" stroke="#5a3a66">ted noten</text>
<text transform="translate(797.83 2566.79) rotate(-3.31) scale(0.9890 1)" x="-2" y="0" font-size="39" fill="#5a3a66" stroke="#5a3a66">b.1956</text>
<text transform="translate(759 2623.5) rotate(0) scale(1.0521 1)" x="-3" y="0" font-size="45" fill="#4b5fa3" stroke="#4b5fa3">iris eichenberg</text>
<text transform="translate(759 2660.8) rotate(0) scale(1.0482 1)" x="-2" y="0" font-size="43" fill="#4b5fa3" stroke="#4b5fa3">b.1965</text>
<text transform="translate(380.43 2793.89) rotate(-2.56) scale(1.0525 1)" x="-2" y="0" font-size="45" fill="#d39264" stroke="#d39264">regina josé galindo</text>
<text transform="translate(788.04 2775.63) rotate(-2.56) scale(0.9798 1)" x="-2" y="0" font-size="39" fill="#d39264" stroke="#d39264">b.1974</text>
<text transform="translate(450 2847.15) rotate(2.12) scale(1.0628 1)" x="-2" y="0" font-size="45" fill="#d39264" stroke="#d39264">rolando castellón</text>
<text transform="translate(820.65 2860.9) rotate(2.12) scale(0.9786 1)" x="-2" y="0" font-size="39" fill="#d39264" stroke="#d39264">b.1937</text>
<text transform="translate(1264.67 2155.85) rotate(-2.69) scale(1.0747 1)" x="-1" y="0" font-size="45" fill="#9b7fb0" stroke="#9b7fb0">eleanor bolton*</text>
<text transform="translate(1354.35 2184.65) rotate(-3.35) scale(1.0224 1)" x="0" y="0" font-size="39" fill="#9b7fb0" stroke="#9b7fb0">youngish</text>
<text transform="translate(1654.89 2147.7) rotate(0.49) scale(1.0507 1)" x="-2" y="0" font-size="45" fill="#1a1a1a" stroke="#1a1a1a">me</text>
<text transform="translate(1732.07 2148.35) rotate(0.49) scale(0.9874 1)" x="-2" y="0" font-size="39" fill="#1a1a1a" stroke="#1a1a1a">b.1986</text>
<text transform="translate(1962 2183) rotate(-1.05) scale(1.0531 1)" x="-1" y="0" font-size="45" fill="#9a9c50" stroke="#9a9c50">daniela hedman</text>
<text transform="translate(2311 2176.59) rotate(-1.05) scale(0.9864 1)" x="-2" y="0" font-size="39" fill="#9a9c50" stroke="#9a9c50">b.1979</text>
<text transform="translate(1219.57 2278.13) rotate(-0.54) scale(1.0313 1)" x="0" y="0" font-size="45" fill="#9fd0e0" stroke="#9fd0e0">tanel veenre</text>
<text transform="translate(1489.13 2275.6) rotate(-0.54) scale(1.0170 1)" x="-2" y="0" font-size="45" fill="#9fd0e0" stroke="#9fd0e0">b.1977</text>
<text transform="translate(1790 2260.5) rotate(-0.57) scale(1.0585 1)" x="0" y="0" font-size="45" fill="#b8807a" stroke="#b8807a">tiffany parbs</text>
<text transform="translate(2061 2257.8) rotate(-0.57) scale(0.9401 1)" x="-2" y="0" font-size="39" fill="#b8807a" stroke="#b8807a">b.1970?</text>
<text transform="translate(2036 2362.5) rotate(-0.69) scale(1.0229 1)" x="0" y="0" font-size="45" fill="#6b3a3a" stroke="#6b3a3a">yoshie</text>
<text transform="translate(2181.5 2360.74) rotate(-0.69) scale(1.0242 1)" x="-1" y="0" font-size="45" fill="#1a1a1a" stroke="#1a1a1a">edna</text>
<text transform="translate(2100 2393.5) rotate(0) scale(0.9329 1)" x="-2" y="0" font-size="39"><tspan fill="#6b3a3a" stroke="#6b3a3a">b.19</tspan><tspan fill="#1a1a1a" stroke="#1a1a1a">82?</tspan></text>
<text transform="translate(1121 2574.7) rotate(0.77) scale(1.0644 1)" x="-2" y="0" font-size="45" fill="#8fc070" stroke="#8fc070">marta boan</text>
<text transform="translate(1187.5 2617.1) rotate(0) scale(0.9905 1)" x="-2" y="0" font-size="39" fill="#8fc070" stroke="#8fc070">b.1976</text>
<text transform="translate(934 338) rotate(17) scale(0.85 1)" font-size="66" fill="#c8604a" stroke="#c8604a" stroke-width="1">!!</text>
<text transform="translate(2579.3 2438.5) scale(0.9826 1)" x="-2" font-size="47" fill="#b8807a">austrailia</text>
<text transform="translate(2579.3 2488.55) scale(0.9788 1)" x="-2" font-size="47" fill="#6b8f6b">austria</text>
<text transform="translate(2579.3 2538.6) scale(1.0737 1)" x="-3" font-size="47" fill="#5b86a8">belgium</text>
<text transform="translate(2579.3 2588.65) scale(1.0017 1)" x="-2" font-size="47" fill="#d0dc6a">china</text>
<text transform="translate(2579.3 2638.7) scale(0.9936 1)" x="-2" font-size="47" fill="#9fd0e0">estonia</text>
<text transform="translate(2579.3 2688.75) scale(1.0482 1)" x="0" font-size="47" fill="#808080">finland</text>
<text transform="translate(2579.3 2738.8) scale(1.0133 1)" x="-1" font-size="47" fill="#4b5fa3">germany</text>
<text transform="translate(2579.3 2788.85) scale(0.9916 1)" x="-3" font-size="47" fill="#b0905a">isreal</text>
<text transform="translate(2579.3 2838.9) scale(1.0524 1)" x="-3" font-size="47" fill="#98292f">italy</text>
<text transform="translate(2579.3 2888.95) scale(0.9842 1)" x="2" font-size="47" fill="#6b3a3a">japan</text>
<text transform="translate(2579.3 2939) scale(0.9746 1)" x="-3" font-size="47" fill="#a8328a">korea</text>
<text transform="translate(2901.63 2438.5) scale(1.0031 1)" x="-3" font-size="47" fill="#8b7538">moracco</text>
<text transform="translate(2832.07 2488.55) scale(1.0210 1)" x="-3" font-size="47" fill="#5a3a66">netherlands</text>
<text transform="translate(2819.02 2538.6) scale(1.0018 1)" x="-3" font-size="47" fill="#7b86b8">new zealand</text>
<text transform="translate(2838.04 2588.65) scale(0.9893 1)" x="-1" font-size="47" fill="#444444">south africa</text>
<text transform="translate(2786.41 2638.7) scale(0.9891 1)" x="-1" font-size="47" fill="#d39264">south america</text>
<text transform="translate(2969.57 2688.75) scale(0.9952 1)" x="-1" font-size="47" fill="#8fc070">spain</text>
<text transform="translate(2919.57 2738.8) scale(0.9990 1)" x="-1" font-size="47" fill="#9a9c50">sweden</text>
<text transform="translate(2842.93 2788.85) scale(1.0145 1)" x="-1" font-size="47" fill="#e0a098">switzerland</text>
<text transform="translate(2948.91 2838.9) scale(1.0067 1)" x="0" font-size="47" fill="#cf9abf">turkey</text>
<text transform="translate(3032.07 2888.95) scale(0.9800 1)" x="-3" font-size="47" fill="#9b7fb0">uk</text>
<text transform="translate(3011.41 2939) scale(0.9078 1)" x="-3" font-size="47" fill="#1a1a1a">usa</text>
<text transform="translate(2028 3029) scale(1.0601 1)" x="-2" font-size="44" fill="#808080" stroke="#808080">indicates that person  proclaims to be a</text>
<text transform="translate(2851.6 3029) scale(1.0298 1)" x="-2" font-size="44" font-style="italic" fill="#808080" stroke="#808080">visual artist</text>
<text transform="translate(1702 3081) scale(1.0641 1)" x="-2" font-size="44" fill="#808080" stroke="#808080">indicates that person proclaims to be a</text>
<text transform="translate(2517.4 3081) scale(0.9969 1)" x="-1" font-size="44" font-style="italic" fill="#808080" stroke="#808080">designer</text>
<text transform="translate(2697.8 3081) scale(1.0291 1)" x="-2" font-size="44" fill="#808080" stroke="#808080">(as well as jeweler)</text>
<text x="1988" y="3030" font-size="66" fill="#808080">°</text>
<text x="1653" y="3081" font-size="62" fill="#808080">*</text>
</svg></body></html>
